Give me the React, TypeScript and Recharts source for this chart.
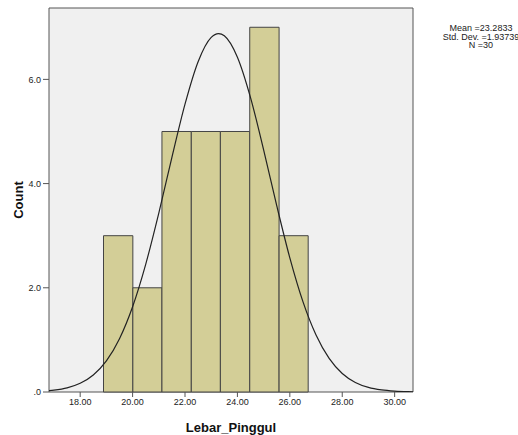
import {
  ComposedChart,
  Line,
  XAxis,
  YAxis,
  CartesianGrid,
  ReferenceArea,
  Label,
} from "recharts";

// histogram bins (edges + counts) of Lebar_Pinggul
const binEdges = [18.89, 20.01, 21.12, 22.24, 23.35, 24.47, 25.59, 26.7];
const binCounts = [3, 2, 5, 5, 5, 7, 3];

// normal curve
const curveX = [
  16.81, 17.0, 17.5, 18.0, 18.5, 19.0, 19.5, 20.0, 20.5, 21.0, 21.5, 22.0, 22.5,
  23.0, 23.28, 23.5, 24.0, 24.5, 25.0, 25.5, 26.0, 26.5, 27.0, 27.5, 28.0, 28.5,
  29.0, 29.5, 30.0, 30.5, 30.7,
];
const curveY = [
  0.025, 0.036, 0.08, 0.167, 0.327, 0.597, 1.023, 1.637, 2.451, 3.435, 4.504,
  5.525, 6.34, 6.807, 6.88, 6.837, 6.425, 5.649, 4.646, 3.576, 2.575, 1.734,
  1.093, 0.644, 0.355, 0.183, 0.088, 0.04, 0.017, 0.007, 0.005,
];

const xTicks = [18, 20, 22, 24, 26, 28, 30];
const yTicks = [0, 2, 4, 6];
const statsLines = ["Mean =23.2833", "Std. Dev. =1.93739", "N =30"];

const xDomain = [16.81, 30.7];
const yDomain = [0, 7.37];

const curve = curveX.map((x, i) => ({ x, y: curveY[i] }));
const bins = binCounts.map((count, i) => ({
  x1: binEdges[i],
  x2: binEdges[i + 1],
  count,
}));

const font = "Arial, 'Liberation Sans', sans-serif";
const tickStyle = { fontSize: 9, fill: "#222", fontFamily: font };

export default function App() {
  return (
    <div style={{ position: "absolute", left: 0, top: 0, width: 518, height: 435, background: "#fff", overflow: "hidden" }}>
      <ComposedChart
        width={518}
        height={435}
        data={curve}
        margin={{ top: 8, right: 105, left: 0, bottom: 0 }}
      >
        <CartesianGrid horizontal={false} vertical={false} fill="#f0f0f0" />
        <XAxis
          dataKey="x"
          type="number"
          domain={xDomain}
          ticks={xTicks}
          tickFormatter={(v: number) => v.toFixed(2)}
          tick={tickStyle}
          tickSize={5}
          tickLine={{ stroke: "#555" }}
          axisLine={false}
          height={43}
          allowDataOverflow
        >
          <Label
            value="Lebar_Pinggul"
            position="insideBottom"
            offset={3}
            style={{ fontSize: 13, fontWeight: "bold", fill: "#111", fontFamily: font }}
          />
        </XAxis>
        <YAxis
          type="number"
          domain={yDomain}
          ticks={yTicks}
          tickFormatter={(v: number) => (v === 0 ? ".0" : v.toFixed(1))}
          tick={tickStyle}
          tickSize={6}
          tickLine={{ stroke: "#555" }}
          axisLine={false}
          width={49}
          allowDataOverflow
        >
          <Label
            value="Count"
            angle={-90}
            position="center"
            dx={-6}
            style={{ fontSize: 13, fontWeight: "bold", fill: "#111", fontFamily: font }}
          />
        </YAxis>
        <ReferenceArea
          x1={xDomain[0]}
          x2={xDomain[1]}
          y1={yDomain[0]}
          y2={yDomain[1]}
          fill="none"
          stroke="#555"
          strokeWidth={1}
          fillOpacity={0}
        />
        {bins.map((b, i) => (
          <ReferenceArea
            key={i}
            x1={b.x1}
            x2={b.x2}
            y1={0}
            y2={b.count}
            fill="#d3ce97"
            fillOpacity={1}
            stroke="#444"
            strokeWidth={1}
          />
        ))}
        <Line
          type="monotone"
          dataKey="y"
          stroke="#222"
          strokeWidth={1.2}
          dot={false}
          isAnimationActive={false}
        />
      </ComposedChart>
      <div
        style={{
          position: "absolute",
          left: 441,
          top: 24,
          width: 80,
          textAlign: "center",
          fontFamily: font,
          fontSize: 9,
          lineHeight: "8.5px",
          color: "#222",
          whiteSpace: "nowrap",
        }}
      >
        {statsLines.map((s) => (
          <div key={s}>{s}</div>
        ))}
      </div>
    </div>
  );
}
